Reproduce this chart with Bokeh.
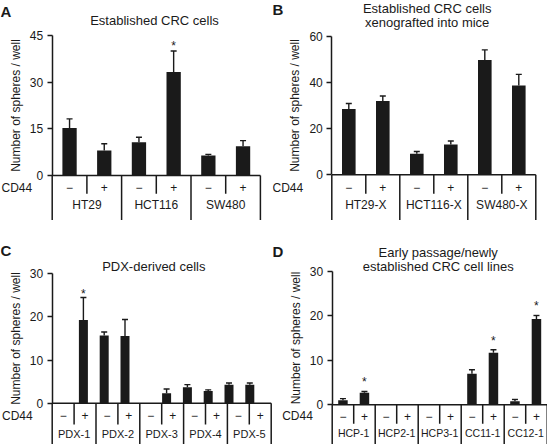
from bokeh.plotting import figure
from bokeh.models import Range1d, LinearAxis, FixedTicker, ColumnDataSource, Whisker, TeeHead
from bokeh.layouts import gridplot
from bokeh.core.properties import value
from bokeh.embed import file_html
from bokeh.resources import INLINE

FONT = "Liberation Sans"
INK = "#1a1a1a"
SIGNS = ["\u2212", "+"]
Y_LABEL = "Number of spheres / well"
ROW_LABEL = "CD44"

# ---------------- data ----------------
a_title = ["Established CRC cells"]
a_groups = ["HT29", "HCT116", "SW480"]
a_means = [15.3, 8.0, 10.7, 33.3, 6.4, 9.4]
a_errs = [2.9, 2.2, 1.6, 6.7, 0.4, 1.8]
a_stars = [3]
a_ticks = [0, 15, 30, 45]

b_title = ["Established CRC cells", "xenografted into mice"]
b_groups = ["HT29-X", "HCT116-X", "SW480-X"]
b_means = [28.4, 31.9, 9.1, 13.1, 49.6, 38.6]
b_errs = [2.4, 2.2, 1.0, 1.5, 4.4, 4.8]
b_stars = []
b_ticks = [0, 20, 40, 60]

c_title = ["PDX-derived cells"]
c_groups = ["PDX-1", "PDX-2", "PDX-3", "PDX-4", "PDX-5"]
c_means = [0, 19.3, 15.7, 15.6, 0, 2.3, 3.7, 2.8, 4.3, 4.3]
c_errs = [0, 5.2, 0.8, 3.8, 0, 1.0, 0.6, 0.3, 0.4, 0.4]
c_stars = [1]
c_ticks = [0, 10, 20, 30]

d_title = ["Early passage/newly", "established CRC cell lines"]
d_groups = ["HCP-1", "HCP2-1", "HCP3-1", "CC11-1", "CC12-1"]
d_means = [1.0, 2.7, 0, 0, 0, 0, 7.0, 11.7, 0.8, 19.3]
d_errs = [0.4, 0.3, 0, 0, 0, 0, 0.9, 0.7, 0.4, 0.8]
d_stars = [1, 7, 9]
d_ticks = [0, 10, 20, 30]

# ---------------- layout (pixels, figure-local) ----------------
LA = dict(fw=272, fh=220, ax=51.7, slot=34.7, tslot=34.7, y0=175.0, ppu=3.111, bar=14.3,
          row1=193.3, sign=187, name=204, title_x=154, title_y=[20], letter=(0, 2),
          cd44=(1, 187), star=8, name_fs="12px")
LB = dict(fw=275, fh=220, ax=59.3, slot=34.0, tslot=34.0, y0=174.3, ppu=2.313, bar=13.6,
          row1=193.3, sign=187, name=204, title_x=154.7, title_y=[7.5, 21.9], letter=(0, 0),
          cd44=(0, 187), star=8, name_fs="12px")
LC = dict(fw=272, fh=224, ax=51.7, slot=20.8, tslot=21.9, y0=182.7, ppu=4.313, bar=9.0,
          row1=204, sign=195, name=213.3, title_x=153.3, title_y=[45.7], letter=(0, 21),
          cd44=(1.5, 195), star=6, name_fs="11px")
LD = dict(fw=275, fh=224, ax=59.7, slot=21.5, tslot=21.5, y0=184.3, ppu=4.443, bar=9.5,
          row1=203.3, sign=195.7, name=212.7, title_x=165.7, title_y=[31.7, 45.7], letter=(0, 22.5),
          cd44=(9.7, 195.7), star=11.5, name_fs="10.5px")


def txt(p, xs, ys, texts, size="12px", align="center", baseline="middle", style="normal"):
    p.text(x=xs, y=ys, text=texts, text_font=value(FONT), text_font_size=size,
           text_align=align, text_baseline=baseline, text_color=INK, text_font_style=style)


def make_panel(letter, title_lines, groups, means, errs, stars, ticks, L):
    n = len(means)
    ax, slot, y0, ppu, fw, fh = L["ax"], L["slot"], L["y0"], L["ppu"], L["fw"], L["fh"]

    def ux(fx):
        return (fx - ax) / slot

    def uy(fy):
        return (y0 - fy) / ppu

    p = figure(width=fw, height=fh, x_range=Range1d(ux(0), ux(fw)), y_range=Range1d(uy(fh), uy(0)),
               x_axis_location=None, y_axis_location=None, toolbar_location=None,
               output_backend="svg", min_border=0, outline_line_color=None,
               background_fill_color="white", border_fill_color="white")
    p.grid.visible = False

    xs = [i + 0.5 for i in range(n)]
    src = ColumnDataSource(dict(x=xs, top=means))
    p.vbar(x="x", top="top", bottom=0, width=L["bar"] / slot, source=src,
           fill_color=INK, line_color=None)

    wx = [x for x, e in zip(xs, errs) if e > 0]
    wlo = [m for m, e in zip(means, errs) if e > 0]
    whi = [m + e for m, e in zip(means, errs) if e > 0]
    wsrc = ColumnDataSource(dict(base=wx, lower=wlo, upper=whi))
    p.add_layout(Whisker(base="base", lower="lower", upper="upper", source=wsrc,
                         lower_head=None,
                         upper_head=TeeHead(size=6, line_width=1.4, line_color=INK),
                         line_color=INK, line_width=1.4, level="glyph"))

    if stars:
        sx = [xs[i] for i in stars]
        sy = [means[i] + errs[i] for i in stars]
        p.text(x=sx, y=sy, text=["*"] * len(stars), text_font=value(FONT), text_font_size="12px",
               text_align="center", text_baseline="middle", text_color=INK,
               y_offset=-(L["star"] - 2.5))

    yax = LinearAxis(fixed_location=0, bounds=(0, ticks[-1]),
                     ticker=FixedTicker(ticks=ticks, minor_ticks=[]),
                     axis_label=Y_LABEL, axis_label_text_font=FONT,
                     axis_label_text_font_size="12px", axis_label_text_font_style="normal",
                     axis_label_text_color=INK, axis_label_standoff=4,
                     major_label_text_font=FONT, major_label_text_font_size="12px",
                     major_label_text_color=INK, major_label_standoff=4,
                     major_tick_in=0, major_tick_out=5, major_tick_line_width=1.5,
                     major_tick_line_color=INK, axis_line_width=1.5, axis_line_color=INK)
    p.add_layout(yax, "left")

    tr = L["tslot"] / slot
    bottom = uy(fh + 5)
    row1 = uy(L["row1"])
    x0s = [0]
    y0s = [0]
    x1s = [n * tr]
    y1s = [0]
    for k in range(n + 1):
        x0s.append(k * tr)
        x1s.append(k * tr)
        y0s.append(0)
        y1s.append(row1 if k % 2 == 1 else bottom)
    p.segment(x0=x0s, y0=y0s, x1=x1s, y1=y1s, line_color=INK, line_width=1.5)

    txt(p, [(k + 0.5) * tr for k in range(n)], [uy(L["sign"])] * n, SIGNS * (n // 2), size="12px")
    ng = len(groups)
    txt(p, [(2 * g + 1) * tr for g in range(ng)], [uy(L["name"])] * ng, groups, size=L["name_fs"])
    txt(p, [ux(L["cd44"][0])], [uy(L["cd44"][1])], [ROW_LABEL], size="12px", align="left")

    txt(p, [ux(L["title_x"])] * len(title_lines), [uy(t) for t in L["title_y"]], title_lines, size="13px")
    txt(p, [ux(L["letter"][0])], [uy(L["letter"][1])], [letter], size="15px", align="left",
        baseline="top", style="bold")
    return p


pa = make_panel("A", a_title, a_groups, a_means, a_errs, a_stars, a_ticks, LA)
pb = make_panel("B", b_title, b_groups, b_means, b_errs, b_stars, b_ticks, LB)
pc = make_panel("C", c_title, c_groups, c_means, c_errs, c_stars, c_ticks, LC)
pd = make_panel("D", d_title, d_groups, d_means, d_errs, d_stars, d_ticks, LD)

grid = gridplot([[pa, pb], [pc, pd]], toolbar_location=None)
open("out.html", "w").write(file_html(grid, INLINE))
